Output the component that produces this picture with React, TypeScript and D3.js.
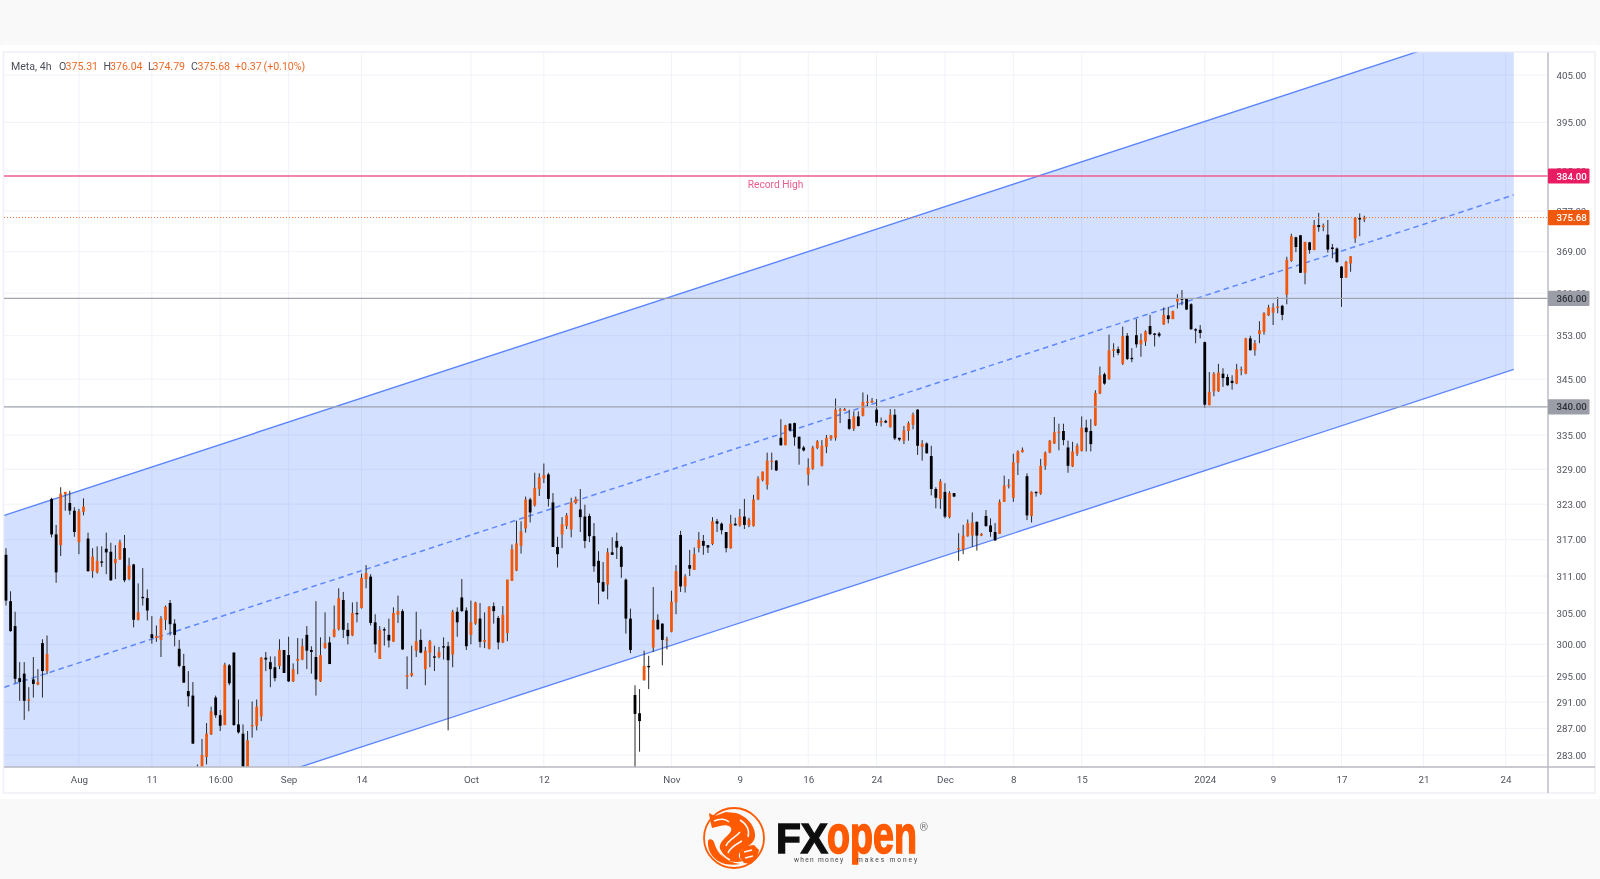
import React, { useEffect, useRef } from 'react';

import * as d3 from 'd3';

// 4h candles (prices)
const opens = [
    314.5, 306.9, 302.9, 294.7, 295.4, 291.2, 294.5, 293.7, 300.2, 295.8,
    323.9, 317.9, 316.1, 324.7, 323.2, 321.9, 316.6, 321.7, 317.2, 311.8,
    311.6, 313.4, 315.5, 315.0, 313.1, 313.7, 315.6, 310.5, 312.9, 303.9,
    307.6, 307.4, 301.6, 301.0, 300.7, 303.9, 306.6, 303.3, 299.3, 296.6,
    292.7, 292.0, 281.0, 280.0, 282.7, 286.1, 291.7, 289.0, 287.5, 296.7,
    298.7, 287.6, 286.2, 280.0, 287.3, 287.4, 288.8, 297.9, 297.2, 296.4,
    296.6, 299.1, 298.3, 294.2, 297.4, 297.6, 301.5, 299.1, 298.0, 294.2,
    299.4, 300.3, 301.2, 302.4, 307.1, 302.3, 301.4, 305.0, 305.8, 310.5,
    310.9, 303.5, 297.7, 302.4, 301.5, 300.4, 304.7, 305.3, 294.9, 295.1,
    299.0, 300.7, 296.1, 298.7, 298.1, 298.0, 299.7, 299.7, 298.4, 305.2,
    307.5, 305.4, 301.5, 303.3, 304.1, 300.4, 299.3, 306.1, 304.2, 300.3,
    301.8, 310.2, 311.9, 316.0, 318.9, 323.8, 322.8, 325.6, 327.4, 328.1,
    323.3, 315.8, 317.9, 319.3, 318.7, 323.2, 322.1, 320.9, 321.0, 317.6,
    313.5, 310.0, 309.6, 314.9, 316.8, 315.8, 310.4, 304.1, 292.1, 289.3,
    294.4, 296.6, 299.5, 303.9, 303.3, 300.7, 302.0, 306.7, 317.8, 309.3,
    312.8, 312.0, 315.6, 316.8, 316.1, 316.3, 320.1, 319.7, 318.3, 315.6,
    319.7, 319.4, 320.9, 319.4, 319.3, 323.8, 327.1, 326.3, 330.4, 330.5,
    334.5, 333.2, 337.0, 337.1, 334.7, 332.8, 328.1, 329.1, 332.7, 329.6,
    332.9, 334.3, 334.5, 339.4, 339.3, 337.8, 336.1, 338.3, 338.4, 340.85,
    340.8, 339.5, 337.2, 337.5, 336.4, 338.6, 334.5, 334.0, 335.7, 336.8,
    339.5, 332.9, 333.5, 331.3, 325.6, 323.9, 325.1, 320.8, 324.9, 315.4,
    315.4, 317.6, 317.7, 320.0, 317.7, 321.0, 319.4, 318.3, 318.0, 323.4,
    326.1, 324.1, 330.1, 332.0, 327.8, 321.0, 325.1, 324.8, 329.6, 331.9,
    333.5, 335.4, 335.7, 332.8, 329.5, 331.7, 332.2, 336.3, 335.7, 336.7,
    342.4, 345.9, 345.0, 350.2, 350.5, 347.8, 353.0, 348.9, 353.1, 351.4,
    351.9, 354.8, 353.4, 353.4, 355.1, 356.8, 356.1, 359.4, 360.0, 359.9,
    358.9, 354.2, 354.1, 351.8, 340.3, 342.8, 342.8, 346.0, 345.4, 344.7,
    344.2, 346.7, 346.0, 352.5, 350.3, 353.3, 353.7, 356.8, 357.3, 358.2,
    358.6, 360.7, 367.2, 371.8, 372.2, 364.9, 370.8, 369.3, 374.2, 373.8,
    372.3, 369.8, 369.6, 366.1, 364.0, 366.7, 371.6, 375.6, 375.31
];
const highs = [
    315.6, 308.5, 305.2, 297.2, 297.2, 293.3, 298.0, 296.1, 300.8, 301.4,
    324.1, 319.5, 325.9, 325.1, 325.3, 322.5, 322.2, 324.0, 318.2, 315.6,
    315.9, 315.9, 318.2, 316.5, 316.1, 317.0, 317.8, 314.0, 313.0, 309.8,
    312.3, 308.8, 304.5, 303.0, 304.5, 306.2, 307.1, 304.0, 300.7, 298.5,
    295.8, 294.1, 281.6, 285.4, 287.8, 290.3, 292.0, 289.8, 297.1, 296.9,
    298.7, 291.4, 287.6, 286.6, 291.1, 291.4, 298.0, 298.8, 298.1, 298.1,
    300.8, 299.1, 301.2, 297.0, 301.0, 300.9, 302.9, 299.7, 306.9, 301.1,
    305.1, 301.2, 306.2, 309.0, 308.4, 303.4, 306.7, 306.8, 311.4, 312.8,
    311.3, 304.8, 302.9, 302.7, 304.1, 305.9, 307.8, 305.6, 298.1, 299.8,
    305.2, 302.4, 299.6, 300.7, 299.8, 299.6, 301.1, 300.4, 305.5, 305.9,
    310.5, 305.9, 307.0, 306.8, 306.6, 305.1, 306.1, 306.7, 304.5, 306.1,
    310.4, 316.2, 320.2, 320.1, 324.3, 324.1, 328.4, 328.3, 330.0, 328.4,
    324.9, 317.5, 320.8, 321.5, 324.1, 324.3, 325.6, 322.9, 321.4, 319.8,
    315.1, 313.3, 315.6, 317.4, 318.2, 316.0, 310.6, 305.7, 293.6, 293.0,
    299.0, 298.2, 309.2, 304.8, 303.3, 301.2, 308.6, 312.8, 318.5, 311.3,
    315.3, 315.7, 318.3, 317.8, 316.1, 320.8, 320.5, 319.9, 318.3, 321.2,
    320.7, 322.2, 323.9, 320.7, 324.6, 327.8, 328.6, 331.9, 331.9, 330.6,
    337.8, 336.8, 337.1, 337.2, 334.7, 333.1, 330.9, 333.1, 334.1, 334.1,
    335.0, 335.0, 341.5, 339.8, 339.8, 339.5, 339.2, 339.2, 342.6, 342.2,
    341.6, 341.4, 338.1, 337.7, 339.6, 339.6, 334.5, 336.6, 337.4, 339.0,
    339.6, 334.1, 333.7, 333.1, 325.9, 327.3, 326.6, 325.2, 324.9, 318.1,
    319.5, 320.4, 321.6, 320.1, 318.1, 322.0, 320.6, 319.8, 323.8, 327.9,
    327.3, 331.7, 332.3, 332.8, 328.3, 325.2, 325.2, 330.8, 332.1, 334.1,
    338.2, 337.0, 337.0, 334.0, 333.8, 333.5, 338.3, 337.7, 337.8, 343.0,
    347.3, 346.2, 353.2, 351.6, 351.0, 354.7, 353.5, 350.7, 356.1, 353.4,
    354.0, 356.9, 353.5, 353.7, 358.3, 358.4, 357.7, 360.8, 361.6, 360.0,
    359.1, 354.4, 355.0, 351.9, 346.3, 346.3, 347.8, 347.0, 345.9, 345.7,
    347.8, 347.3, 352.6, 353.0, 352.2, 355.7, 357.4, 358.8, 359.1, 360.3,
    358.8, 368.0, 372.5, 371.9, 372.2, 370.9, 370.9, 375.2, 376.6, 374.5,
    375.2, 370.5, 369.8, 366.2, 367.2, 368.1, 375.8, 376.5, 376.04
];
const lows = [
    306.2, 302.0, 293.9, 291.2, 288.3, 289.6, 291.7, 293.6, 291.7, 295.3,
    317.4, 309.9, 314.3, 321.9, 321.2, 317.5, 314.6, 321.1, 311.7, 310.7,
    311.4, 312.5, 311.3, 310.2, 310.5, 313.7, 310.0, 310.3, 302.7, 303.8,
    306.2, 303.8, 300.1, 300.4, 298.0, 302.3, 301.4, 299.7, 296.4, 294.0,
    290.3, 284.7, 279.5, 279.0, 281.6, 286.0, 288.6, 286.6, 287.5, 293.6,
    287.4, 286.2, 279.0, 279.0, 285.6, 286.7, 288.1, 295.8, 293.3, 294.2,
    296.1, 295.5, 294.1, 294.1, 295.3, 297.5, 296.1, 295.4, 292.0, 294.1,
    299.3, 296.9, 301.1, 302.2, 301.0, 300.0, 301.3, 303.5, 305.7, 309.0,
    303.0, 298.7, 297.7, 299.8, 299.5, 300.4, 303.4, 299.1, 293.0, 294.9,
    298.0, 298.6, 293.6, 296.4, 295.8, 297.8, 297.6, 286.7, 296.4, 301.2,
    305.2, 299.1, 300.0, 303.1, 299.5, 299.4, 299.2, 303.3, 299.2, 300.2,
    300.5, 310.2, 311.8, 314.7, 318.2, 319.9, 322.6, 324.4, 326.6, 322.6,
    315.8, 312.4, 315.6, 318.8, 317.4, 323.0, 318.3, 315.6, 316.6, 311.7,
    306.4, 308.4, 307.2, 314.5, 313.8, 310.7, 301.7, 298.6, 279.0, 283.5,
    294.3, 293.0, 298.8, 302.3, 296.7, 299.2, 301.9, 304.8, 308.4, 308.3,
    311.0, 312.0, 314.9, 314.5, 314.8, 316.1, 318.3, 317.9, 314.9, 315.5,
    319.4, 319.2, 318.8, 319.1, 319.2, 323.7, 326.9, 325.5, 328.9, 328.7,
    333.1, 333.2, 335.6, 333.1, 329.8, 332.1, 326.2, 328.9, 332.5, 329.5,
    331.8, 334.0, 334.0, 337.1, 339.3, 335.9, 335.7, 336.5, 338.3, 340.1,
    340.7, 336.6, 336.5, 337.1, 336.3, 334.1, 333.9, 333.4, 334.0, 336.0,
    331.5, 330.5, 331.7, 324.5, 322.3, 322.2, 320.6, 320.6, 324.2, 313.5,
    314.6, 317.5, 315.8, 315.2, 317.6, 319.2, 317.5, 316.8, 318.0, 323.4,
    325.7, 323.4, 328.0, 331.9, 320.3, 319.9, 324.3, 324.6, 328.9, 331.8,
    333.4, 332.3, 333.2, 328.4, 329.4, 331.3, 332.1, 332.1, 332.1, 336.6,
    342.3, 344.0, 344.9, 349.0, 349.4, 347.6, 348.5, 348.1, 350.8, 349.1,
    351.1, 353.1, 351.0, 352.7, 355.0, 355.3, 356.1, 358.1, 358.7, 357.8,
    354.1, 351.6, 352.5, 339.8, 340.3, 341.9, 342.7, 343.6, 343.8, 343.1,
    344.1, 345.7, 345.9, 350.3, 349.3, 351.6, 353.2, 356.7, 355.0, 357.2,
    355.9, 358.9, 367.0, 368.9, 364.9, 362.7, 368.6, 369.3, 372.9, 373.0,
    368.8, 367.7, 366.8, 358.4, 363.9, 365.1, 370.7, 372.0, 374.79
];
const closes = [
    307.0, 302.1, 294.6, 294.1, 291.2, 291.4, 293.8, 294.1, 295.8, 298.5,
    317.9, 311.6, 324.8, 325.1, 321.9, 318.3, 321.8, 322.6, 311.8, 314.2,
    313.5, 313.2, 314.9, 310.3, 313.8, 316.6, 310.3, 312.7, 303.9, 305.1,
    307.4, 305.4, 301.0, 301.3, 304.1, 306.0, 303.2, 301.5, 296.6, 294.0,
    291.9, 284.7, 280.0, 283.0, 286.2, 289.6, 289.0, 287.4, 296.8, 293.9,
    287.5, 286.4, 280.0, 285.2, 287.5, 290.3, 297.9, 297.6, 296.1, 294.7,
    299.1, 295.5, 294.2, 296.1, 297.7, 299.7, 299.0, 298.8, 294.5, 298.3,
    300.2, 296.9, 302.4, 307.4, 302.3, 301.3, 305.0, 304.9, 310.7, 311.5,
    303.4, 300.0, 302.3, 302.2, 300.6, 305.0, 305.3, 299.2, 295.2, 295.5,
    300.5, 298.7, 299.0, 300.5, 298.0, 298.8, 299.5, 297.5, 305.2, 303.5,
    305.3, 299.7, 303.5, 306.7, 300.4, 300.7, 306.0, 305.3, 300.3, 304.7,
    310.4, 315.4, 316.4, 318.4, 323.8, 321.6, 325.8, 327.6, 328.0, 323.9,
    315.8, 314.6, 319.6, 321.1, 323.3, 323.9, 320.8, 316.8, 317.6, 312.6,
    309.9, 308.5, 314.9, 314.5, 315.7, 312.5, 304.1, 299.1, 289.2, 288.1,
    296.6, 296.4, 303.9, 302.4, 300.7, 300.8, 306.8, 311.8, 309.3, 310.9,
    312.2, 314.6, 317.0, 316.0, 315.7, 320.1, 319.7, 318.6, 315.6, 319.7,
    319.4, 320.9, 319.5, 320.4, 323.8, 327.4, 328.6, 330.5, 330.5, 328.8,
    333.2, 336.7, 335.8, 334.6, 332.6, 332.3, 329.3, 332.8, 333.9, 333.1,
    334.5, 334.9, 339.5, 339.5, 339.6, 336.1, 338.3, 336.6, 340.9, 340.95,
    341.1, 337.2, 337.5, 337.2, 338.6, 334.4, 334.2, 335.8, 337.1, 338.6,
    333.1, 333.5, 331.8, 325.6, 324.1, 326.9, 320.9, 324.9, 324.3, 315.6,
    317.7, 319.8, 319.9, 317.7, 318.0, 319.3, 318.3, 316.9, 323.4, 326.2,
    326.3, 330.2, 332.1, 332.4, 321.1, 325.1, 324.9, 329.6, 331.9, 334.0,
    335.5, 335.6, 334.1, 329.6, 332.1, 333.1, 336.3, 335.5, 333.4, 342.5,
    345.7, 344.2, 350.3, 350.5, 349.8, 352.9, 348.7, 348.8, 351.4, 352.2,
    353.8, 353.3, 353.3, 353.0, 356.9, 356.1, 357.6, 360.0, 359.8, 357.9,
    354.2, 354.1, 353.5, 340.4, 342.7, 346.0, 346.2, 345.2, 343.9, 344.3,
    346.8, 346.8, 352.5, 350.3, 351.6, 354.0, 357.2, 358.3, 358.3, 358.5,
    356.9, 367.4, 372.0, 369.9, 364.9, 370.9, 369.3, 374.2, 373.8, 374.1,
    369.4, 369.5, 367.0, 363.9, 367.0, 368.1, 375.6, 375.3, 375.68
];

// axis ticks
const priceTicks = [405, 395, 385, 377, 369, 361, 353, 345, 340, 335, 329, 323, 317, 311, 305, 300, 295, 291, 287, 283];
const timeTickBars = [16, 32, 47, 62, 78, 102, 118, 146, 161, 176, 191, 206, 221, 236, 263, 278, 293, 311, 329];
const timeTickLabels = ['Aug', '11', '16:00', 'Sep', '14', 'Oct', '12', 'Nov', '9', '16', '24', 'Dec', '8', '15', '2024', '9', '17', '21', '24'];

// channel: price at the first and last bar of the drawing
const channelBars = [-0.37, 330.8];
const channelUpper = [321.1, 416.9];
const channelMiddle = [293.3, 380.2];
const channelLower = [267.2, 346.8];

const legendParts = [
    { text: 'Meta, 4h', x: 11, dark: true },
    { text: 'O', x: 59, dark: true },
    { text: '375.31', x: 65.5, dark: false },
    { text: 'H', x: 103.5, dark: true },
    { text: '376.04', x: 110, dark: false },
    { text: 'L', x: 148, dark: true },
    { text: '374.79', x: 152.5, dark: false },
    { text: 'C', x: 191, dark: true },
    { text: '375.68', x: 197.5, dark: false },
    { text: '+0.37', x: 235, dark: false },
    { text: '(+0.10%)', x: 263.5, dark: false }
];

const ORANGE = '#f0590b';
const LOGO = '#ff5a00';
const FONT = 'Roboto, sans-serif';

export default function App() {
    const ref = useRef<SVGSVGElement>(null);

    useEffect(() => {
        const root = d3.select(ref.current);
        root.selectAll('*').remove();

        // the reference is a soft screenshot
        root.append('filter').attr('id', 'soft').attr('x', 0).attr('y', 0).attr('width', 1).attr('height', 1)
            .append('feGaussianBlur').attr('stdDeviation', 0.4);
        const svg = root.append('g').attr('filter', 'url(#soft)');

        const left = 4, right = 1548, top = 52.5, bottom = 767;

        const x = d3.scaleLinear().domain([0, 298]).range([6, 6 + 298 * 4.558]);
        const y = d3.scaleLog().domain([283, 405]).range([755, 75]);

        // page and chart panel
        svg.append('rect').attr('width', 1600).attr('height', 879).attr('fill', '#f9f9f9');
        svg.append('rect').attr('x', 0).attr('y', 45).attr('width', 1600).attr('height', 754).attr('rx', 4).attr('fill', '#fff');
        svg.append('rect').attr('x', 3.5).attr('y', 52).attr('width', 1591.5).attr('height', 741)
            .attr('fill', 'none').attr('stroke', '#eef0f6').attr('stroke-width', 1.5);

        root.append('clipPath').attr('id', 'plot').append('rect')
            .attr('x', left).attr('y', top).attr('width', right - left).attr('height', bottom - top);
        const plot = svg.append('g').attr('clip-path', 'url(#plot)');

        // grid
        plot.selectAll('line.h').data(priceTicks).enter().append('line')
            .attr('x1', left).attr('x2', right).attr('y1', d => y(d)).attr('y2', d => y(d))
            .attr('stroke', '#f0f3fa').attr('stroke-width', 1);
        plot.selectAll('line.v').data(timeTickBars).enter().append('line')
            .attr('y1', top).attr('y2', bottom).attr('x1', d => x(d)).attr('x2', d => x(d))
            .attr('stroke', '#f0f3fa').attr('stroke-width', 1);

        // channel
        const upperPts = channelBars.map((b, i) => [x(b), y(channelUpper[i])] as [number, number]);
        const lowerPts = channelBars.map((b, i) => [x(b), y(channelLower[i])] as [number, number]);
        const midPts = channelBars.map((b, i) => [x(b), y(channelMiddle[i])] as [number, number]);
        const line = d3.line();
        plot.append('path')
            .attr('d', line([upperPts[0], upperPts[1], lowerPts[1], lowerPts[0]]) + 'Z')
            .attr('fill', '#2962ff').attr('fill-opacity', 0.2);
        plot.append('path').attr('d', line(upperPts)).attr('fill', 'none').attr('stroke', '#5c86fb').attr('stroke-width', 1.4);
        plot.append('path').attr('d', line(lowerPts)).attr('fill', 'none').attr('stroke', '#5c86fb').attr('stroke-width', 1.4);
        plot.append('path').attr('d', line(midPts)).attr('fill', 'none').attr('stroke', '#5f88fb')
            .attr('stroke-width', 1.5).attr('stroke-dasharray', '5.5 4');

        // candles
        const candles = d3.range(opens.length);
        plot.selectAll('line.wick').data(candles).enter().append('line')
            .attr('x1', i => x(i)).attr('x2', i => x(i))
            .attr('y1', i => y(highs[i])).attr('y2', i => y(lows[i]))
            .attr('stroke', '#2a2a2a').attr('stroke-width', 1);
        plot.selectAll('rect.body').data(candles).enter().append('rect')
            .attr('x', i => x(i) - 1.4).attr('width', 2.8)
            .attr('y', i => y(Math.max(opens[i], closes[i])))
            .attr('height', i => Math.max(1.3, Math.abs(y(opens[i]) - y(closes[i]))))
            .attr('fill', i => closes[i] >= opens[i] ? ORANGE : '#000');

        // horizontal levels
        const level = (price: number, color: string, width: number, dash?: string) => {
            const l = plot.append('line').attr('x1', left).attr('x2', right)
                .attr('y1', y(price)).attr('y2', y(price))
                .attr('stroke', color).attr('stroke-width', width);
            if (dash) l.attr('stroke-dasharray', dash);
        };
        level(375.68, '#f0703a', 1, '1 2');
        level(360, '#a2a5ae', 1.3);
        level(340, '#a2a5ae', 1.3);
        level(384, '#ec5c8e', 1.6);

        plot.append('text').attr('x', 775.5).attr('y', 188).attr('text-anchor', 'middle')
            .attr('font-family', FONT).attr('font-size', 10.2).attr('fill', '#ec5a8c').text('Record High');

        // axes
        svg.append('line').attr('x1', right).attr('x2', right).attr('y1', top).attr('y2', 793)
            .attr('stroke', '#b8bac2').attr('stroke-width', 1.4);
        svg.append('line').attr('x1', left).attr('x2', 1595).attr('y1', bottom).attr('y2', bottom)
            .attr('stroke', '#b8bac2').attr('stroke-width', 1.4);

        const yAxis = svg.append('g').attr('transform', `translate(${right + 8.5},0)`)
            .call(d3.axisRight(y).tickValues(priceTicks).tickSize(0).tickPadding(0).tickFormat(d => (d as number).toFixed(2)));
        yAxis.select('.domain').remove();
        yAxis.selectAll('text').attr('font-family', FONT).attr('font-size', 9.7).attr('fill', '#50535e');

        const xAxis = svg.append('g').attr('transform', `translate(0,${bottom + 9})`)
            .call(d3.axisBottom(x).tickValues(timeTickBars).tickSize(0).tickPadding(0)
                .tickFormat((_, i) => timeTickLabels[i]));
        xAxis.select('.domain').remove();
        xAxis.selectAll('text').attr('font-family', FONT).attr('font-size', 9.8).attr('fill', '#50535e');

        // price badges
        const badge = (price: number, fill: string, color: string) => {
            const g = svg.append('g').attr('transform', `translate(${right},${y(price)})`);
            g.append('rect').attr('x', 0).attr('y', -7.6).attr('width', 41.5).attr('height', 15.2).attr('rx', 1).attr('fill', fill);
            g.append('text').attr('x', 8.5).attr('y', 3.6).attr('font-family', FONT).attr('font-size', 9.7)
                .attr('font-weight', 500).attr('fill', color).text(price.toFixed(2));
        };
        badge(384, '#e91e63', '#fff');
        badge(375.68, ORANGE, '#fff');
        badge(360, '#9b9ea7', '#2e3038');
        badge(340, '#9b9ea7', '#2e3038');

        // legend
        svg.append('g').selectAll('text').data(legendParts).enter().append('text')
            .attr('x', d => d.x).attr('y', 70).attr('font-family', FONT).attr('font-size', 10.6)
            .attr('fill', d => d.dark ? '#4c4f5a' : '#ee6a28').text(d => d.text);

        // FXopen logo
        const logo = svg.append('g').attr('transform', 'translate(734,838)');
        logo.append('circle').attr('r', 30).attr('fill', 'none').attr('stroke', LOGO).attr('stroke-width', 1.8);
        logo.append('path').attr('fill', LOGO)
            .attr('d', 'M-24,-18 L-25,-25 L-19,-22 L-8,-26 L2,-25 C12,-22 20,-14 21,-4 C22,6 12,8 7,13 C3,17 5,21 9,23 C-2,26 -12,22 -14,12 C-16,3 -6,-1 -3,-7 C-1,-12 -8,-14 -14,-12 L-22,-10 Z');
        logo.append('path').attr('fill', LOGO)
            .attr('d', 'M-26,3 C-27,14 -20,23 -9,26 C-3,27 2,27 6,26 C-8,24 -17,16 -20,4 C-21,1 -25,0 -26,3 Z');
        logo.append('path').attr('fill', LOGO)
            .attr('d', 'M6,14 L12,8 L20,7 L25,12 L23,20 L17,26 L10,25 L6,20 Z');
        const stripes = ['M-20,-17 C-14,-20 -8,-19 -5,-16', 'M6,-18 C13,-14 16,-7 14,-1', 'M-8,8 C-6,2 2,-1 6,-6', 'M-6,15 C-4,9 3,6 8,3', 'M-16,8 C-14,14 -10,19 -4,22', 'M10,14 L18,12', 'M11,20 L19,18'];
        logo.selectAll('path.stripe').data(stripes).enter().append('path')
            .attr('d', d => d).attr('fill', 'none').attr('stroke', '#f9f9f9').attr('stroke-width', 1.5);

        const brand = (label: string, px: number, py: number, size: number, width: number, weight: number, fill: string) =>
            svg.append('text').attr('x', px).attr('y', py).attr('font-family', '"Liberation Sans", sans-serif')
                .attr('font-weight', 700).attr('font-size', size).attr('fill', fill).attr('stroke', fill).attr('stroke-width', weight)
                .attr('textLength', width).attr('lengthAdjust', 'spacingAndGlyphs').text(label);
        brand('FX', 776, 853, 42, 52, 1.4, '#111');
        brand('open', 827, 853, 54, 90, 1.6, LOGO);

        svg.append('text').attr('x', 794).attr('y', 861.5).attr('font-family', FONT).attr('font-size', 6.6)
            .attr('fill', '#444').attr('textLength', 49).text('when money');
        svg.append('text').attr('x', 857).attr('y', 861.5).attr('font-family', FONT).attr('font-size', 6.6)
            .attr('fill', '#444').attr('textLength', 60).text('makes money');
        svg.append('text').attr('x', 919.5).attr('y', 831).attr('font-family', FONT).attr('font-size', 11)
            .attr('fill', '#777').text('®');
    }, []);

    return (
        <svg ref={ref} width={1600} height={879} style={{ position: 'absolute', top: 0, left: 0 }} />
    );
}
